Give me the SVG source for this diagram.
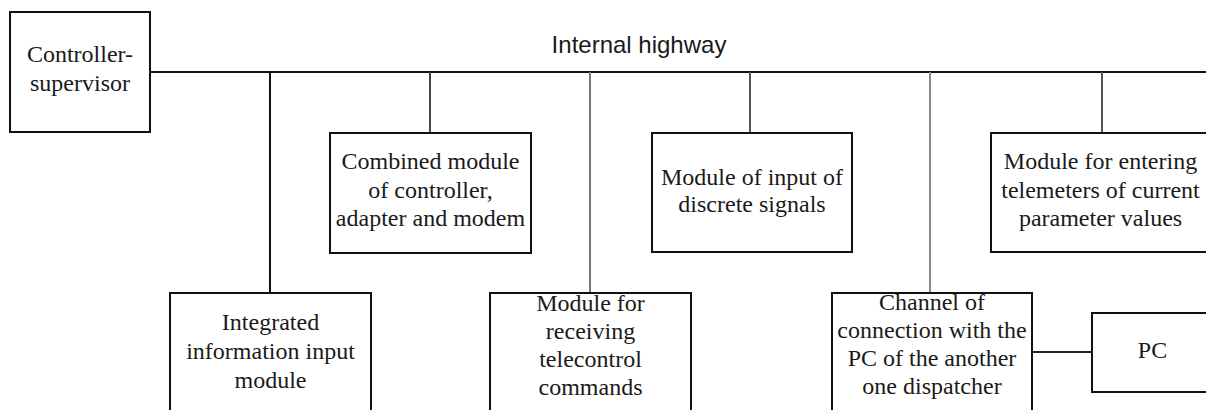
<svg xmlns="http://www.w3.org/2000/svg" width="1206" height="410" viewBox="0 0 1206 410">
<style>
.box{fill:#fff;stroke:#111;stroke-width:2}
.t{font-family:"Liberation Serif","Times New Roman",serif;font-size:24px;fill:#1a1a1a;text-anchor:middle}
.s{font-family:"Liberation Sans",Arial,sans-serif;font-size:24px;fill:#1a1a1a;text-anchor:middle}
.c{fill:none;stroke-width:2}
</style>
<rect width="1206" height="410" fill="#fff"/>
<g id="connectors">
<line class="c" x1="150" y1="72" x2="1206" y2="72" stroke="#111"/>
<line class="c" x1="270" y1="72" x2="270" y2="293" stroke="#111"/>
<line class="c" x1="430" y1="72" x2="430" y2="133" stroke="#444"/>
<line class="c" x1="590" y1="72" x2="590" y2="293" stroke="#777"/>
<line class="c" x1="750" y1="72" x2="750" y2="133" stroke="#555"/>
<line class="c" x1="930" y1="72" x2="930" y2="293" stroke="#888"/>
<line class="c" x1="1102" y1="72" x2="1102" y2="133" stroke="#555"/>
<line class="c" x1="1032" y1="352" x2="1092" y2="352" stroke="#222"/>
</g>
<text class="s" x="639" y="53">Internal highway</text>
<g id="controller-supervisor">
<rect class="box" x="10" y="12" width="140" height="120"/>
<text class="t" x="80" y="62">Controller-</text>
<text class="t" x="80" y="91">supervisor</text>
</g>
<g id="combined-module">
<rect class="box" x="330" y="133" width="201" height="120"/>
<text class="t" x="430.5" y="169">Combined module</text>
<text class="t" x="430.5" y="198">of controller,</text>
<text class="t" x="430.5" y="226">adapter and modem</text>
</g>
<g id="discrete-signals">
<rect class="box" x="652" y="133" width="200" height="119"/>
<text class="t" x="752" y="185">Module of input of</text>
<text class="t" x="752" y="212">discrete signals</text>
</g>
<g id="telemeters">
<rect class="box" x="991" y="133" width="225" height="119"/>
<text class="t" x="1100.5" y="169">Module for entering</text>
<text class="t" x="1100.5" y="198">telemeters of current</text>
<text class="t" x="1100.5" y="226">parameter values</text>
</g>
<g id="integrated-input">
<rect class="box" x="170" y="293" width="201" height="130"/>
<text class="t" x="270.5" y="330">Integrated</text>
<text class="t" x="270.5" y="359">information input</text>
<text class="t" x="270.5" y="388">module</text>
</g>
<g id="telecontrol">
<rect class="box" x="490" y="293" width="201" height="130"/>
<text class="t" x="590.5" y="311">Module for</text>
<text class="t" x="590.5" y="339">receiving</text>
<text class="t" x="590.5" y="367">telecontrol</text>
<text class="t" x="590.5" y="395">commands</text>
</g>
<g id="channel">
<rect class="box" x="832" y="293" width="200" height="130"/>
<text class="t" x="932" y="310">Channel of</text>
<text class="t" x="932" y="338">connection with the</text>
<text class="t" x="932" y="366">PC of the another</text>
<text class="t" x="932" y="394">one dispatcher</text>
</g>
<g id="pc">
<rect class="box" x="1092" y="313" width="130" height="79"/>
<text class="t" x="1152.5" y="358">PC</text>
</g>
</svg>
